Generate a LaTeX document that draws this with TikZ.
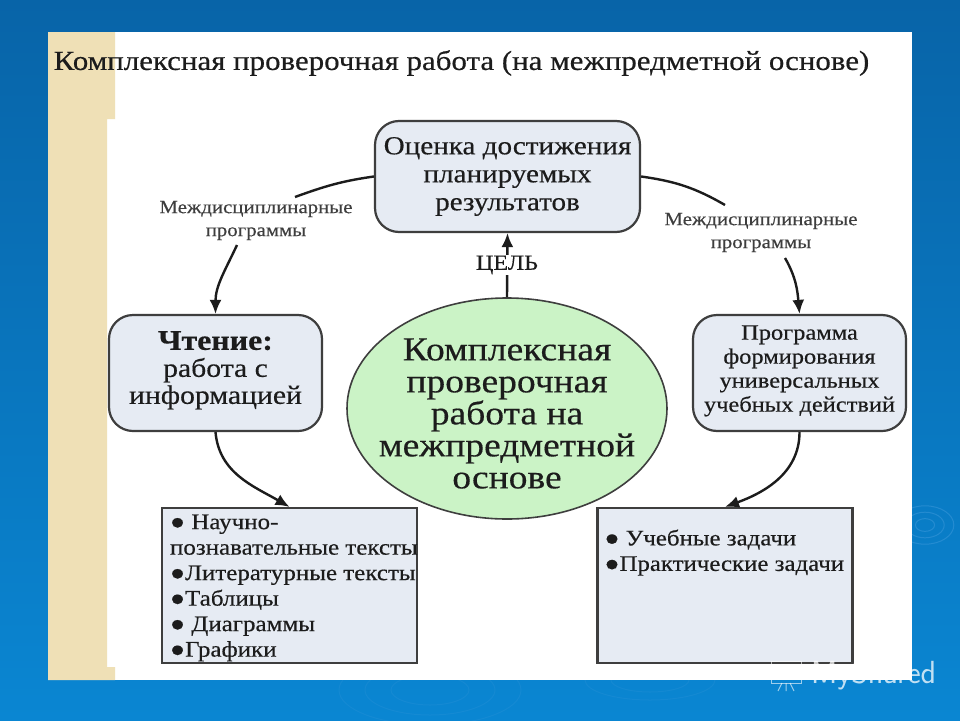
\documentclass[tikz,border=0pt]{standalone}
\usepackage{fontspec}
\setmainfont{Liberation Serif}
\newfontfamily\heavy[FakeBold=0.4,FakeStretch=1.12]{Liberation Serif}
\usetikzlibrary{shapes.geometric,arrows.meta}
\definecolor{boxblue}{HTML}{E6EBF3}
\definecolor{ovalgreen}{HTML}{CBF3C6}
\definecolor{strip}{HTML}{EFE0B6}
\definecolor{ink}{HTML}{1C1C1C}
\definecolor{ripple}{HTML}{3F9ADB}
\definecolor{skytop}{HTML}{0864A8}
\definecolor{skybot}{HTML}{0A86D2}
\newcommand{\mfs}[2]{\fontsize{#1}{#2}\selectfont\heavy}
\begin{document}
\begin{tikzpicture}[x=1pt,y=-1pt,
    move/.style={->,>={Latex[length=14pt,width=12pt]},line width=2.4pt,ink,draw},
    roundbox/.style={draw=ink!85,line width=2.2pt,rounded corners=24pt,fill=boxblue,align=center,text=ink,inner sep=0pt},
    listbox/.style={draw=ink!85,line width=2.2pt,fill=boxblue,text=ink,inner sep=0pt,minimum width=255pt,minimum height=155pt},
    mark label/.style={align=center,text=ink!85,inner sep=1pt}]

    \shade[top color=skytop,bottom color=skybot] (0,0) rectangle (960,720);
    \useasboundingbox (0,0) rectangle (960,720);
    \foreach \r in {8,16,24} \draw[ripple,opacity=.5,line width=1pt] (925,525) ellipse ({\r*1.2} and {\r*.8});
    \foreach \r in {30,50,70} \draw[ripple,opacity=.2,line width=1pt] (430,690) ellipse ({\r*1.3} and {\r*.5});
    \foreach \r in {30,50} \draw[ripple,opacity=.2,line width=1pt] (650,680) ellipse ({\r*1.3} and {\r*.4});
    \fill[white] (48,32) rectangle (912,680);
    \fill[strip] (48,32) -- (115,32) -- (115,119) -- (107,119) -- (107,667) -- (115,667) -- (115,680) -- (48,680) -- cycle;

    \node[font=\mfs{27.6}{30},text=ink] (title) at (461.5,63) {Комплексная проверочная работа (на межпредметной основе)};

    \node[roundbox,font=\mfs{26}{28},minimum width=265pt,minimum height=111pt] (goal) at (507.5,176.5) {Оценка достижения\\планируемых\\результатов};
    \node[roundbox,font=\mfs{26.5}{27},minimum width=213pt,minimum height=116pt] (read) at (215.5,373) {{\fontsize{28.5}{27}\selectfont\bfseries Чтение:}\\работа с\\информацией\rule[-11pt]{0pt}{0pt}};
    \node[roundbox,font=\mfs{21.8}{24},minimum width=213pt,minimum height=116pt] (prog) at (799.5,373) {Программа\\формирования\\универсальных\\учебных действий\rule[-9pt]{0pt}{0pt}};
    \node[ellipse,draw=ink!85,line width=1.6pt,fill=ovalgreen,font=\mfs{33.5}{32},minimum width=320pt,minimum height=221pt,inner sep=-28pt,align=center,text=ink] (main) at (507,408.5) {\rule{0pt}{32pt}Комплексная\\проверочная\\работа на\\межпредметной\\основе};
    \node[listbox] (listL) at (289.5,585.5) {\parbox[c][150pt][t]{239pt}{\mfs{22.3}{25.5}\vspace*{4pt}\mbox{● Научно-}\\\mbox{познавательные тексты}\\\mbox{●Литературные тексты}\\\mbox{●Таблицы}\\\mbox{● Диаграммы}\\\mbox{●Графики}}};
    \node[listbox] (listR) at (725,585.5) {\parbox[c][150pt][t]{241pt}{\mfs{22.2}{25.5}\vspace*{19pt}\mbox{● Учебные задачи}\\\mbox{●Практические задачи}}};

    \node[mark label,font=\mfs{18.6}{23}] (lblL) at (256,220.5) {Междисциплинарные\\программы};
    \node[mark label,font=\mfs{18.6}{23}] (lblR) at (761,232.5) {Междисциплинарные\\программы};
    \coordinate (endL) at (295,197);
    \coordinate (endR) at (725,205);
    \coordinate (startL) at (237,245);
    \coordinate (startR) at (785,258);

    \path[move,-] (goal.west) to[out=188,in=20] (endL);
    \path[move,-] (goal.east) to[out=-8,in=150] (endR);
    \path[move] (startL) to[out=245,in=90] (read.north);
    \path[move] (startR) to[out=-60,in=95] (prog.north);
    \path[move] (read.south) to[out=-85,in=150] (listL.north);
    \path[move] (prog.south) to[out=-90,in=20] (listR.north);
    \path[move] (main.north) -- (goal.south);
    \node[fill=white,inner sep=1pt,text=ink,font=\mfs{21.5}{24}] (aim) at (507,265) {ЦЕЛЬ};

    \node[text=white,opacity=.75,anchor=west,inner sep=0pt,font=\fontsize{32}{33}\selectfont\sffamily] (brand) at (811,675) {MyShared};
    \begin{scope}[white,opacity=.6,line width=1pt]
        \draw (771,661) rectangle (801,683);
        \draw (786,683) -- (786,691) (778,691) -- (782,683) (794,691) -- (790,683);
        \draw (780,680) -- (780,674) (786,680) -- (786,670) (792,680) -- (792,666);
    \end{scope}

  \end{tikzpicture}
\end{document}
